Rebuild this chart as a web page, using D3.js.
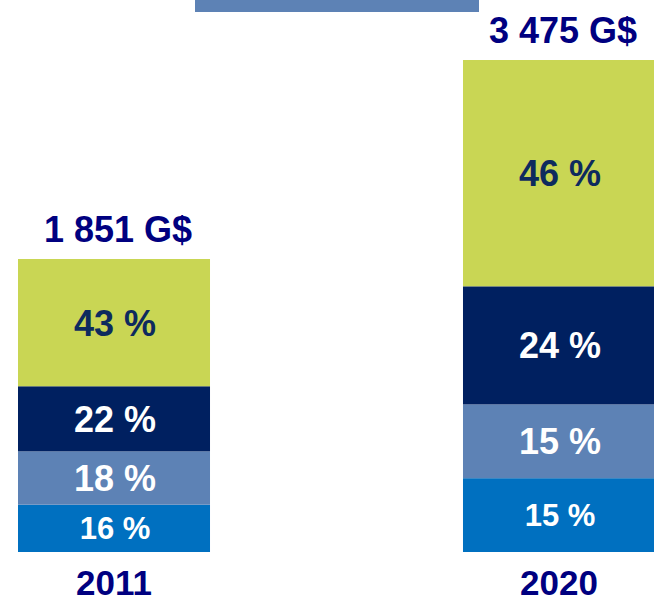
<!DOCTYPE html>
<html>
<head>
    <meta charset="utf-8">
    <style>
        body {
            margin: 0;
            background: #fff;
        }

        svg {
            display: block;
            font-family: "Liberation Sans", Arial, sans-serif;
            font-weight: bold;
        }

        .total {
            fill: #000080;
            font-size: 36px;
        }

        .year {
            fill: #000080;
            font-size: 35px;
        }
    </style>
</head>
<body>
    <svg width="654" height="603"></svg>

<script src="https://d3js.org/d3.v7.min.js"></script>
<script>
    // data
    let years = ["2011", "2020"]
    let totals = [1851, 3475]            // G$
    let totalLabels = ["1 851 G$", "3 475 G$"]
    let segments = ["s1", "s2", "s3", "s4"]   // bottom -> top
    let shares2011 = [16, 18, 22, 43]
    let shares2020 = [15, 15, 24, 46]

    let colors = ["#0070c0", "#5d82b5", "#002060", "#c9d654"]
    let textColors = ["#ffffff", "#ffffff", "#ffffff", "#0d2b5e"]

    let svg = d3.select("svg")

    let x = d3.scaleBand()
        .domain(years)
        .range([18, 655])
        .paddingInner(0.5685)

    // value axis (not shown) - baseline sits below zero in the original
    let y = d3.scaleLinear()
        .domain([-540, 3475])
        .range([552, 60])

    // small band at the very top of the slide
    svg.append("rect")
        .attr("x", 195)
        .attr("y", 0)
        .attr("width", 284)
        .attr("height", 12)
        .attr("fill", "#5d82b5")

    let bars = years.map((yr, i) => {
        let shares = i == 0 ? shares2011 : shares2020
        let sum = d3.sum(shares)
        let cum = 0
        return {
            year: yr,
            total: totals[i],
            label: totalLabels[i],
            segs: shares.map((s, j) => {
                let d = { key: segments[j], share: s, y0: cum / sum, y1: (cum + s) / sum, idx: j }
                cum += s
                return d
            })
        }
    })

    let g = svg.append("g").attr("class", "bars")

    bars.forEach(b => {
        // map share (0..1) onto the height of this bar
        let s = d3.scaleLinear()
            .domain([0, 1])
            .range([y(-540), y(b.total)])

        let bg = g.append("g").attr("class", "bar")

        bg.selectAll("rect")
            .data(b.segs)
            .join("rect")
            .attr("x", x(b.year))
            .attr("width", x.bandwidth())
            .attr("y", d => s(d.y1))
            .attr("height", d => s(d.y0) - s(d.y1))
            .attr("fill", d => colors[d.idx])

        bg.selectAll("text.pct")
            .data(b.segs)
            .join("text")
            .attr("class", "pct")
            .attr("x", x(b.year) + x.bandwidth() / 2 + 1)
            .attr("y", d => (s(d.y0) + s(d.y1)) / 2)
            .attr("dy", "0.36em")
            .attr("text-anchor", "middle")
            .attr("font-size", d => d.idx == 0 ? 31 : 36)
            .attr("fill", d => textColors[d.idx])
            .text(d => d.share + " %")

        bg.append("text")
            .attr("class", "total")
            .attr("x", x(b.year) + x.bandwidth() / 2 + 4)
            .attr("y", y(b.total) - 17)
            .attr("text-anchor", "middle")
            .text(b.label)

        bg.append("text")
            .attr("class", "year")
            .attr("x", x(b.year) + x.bandwidth() / 2)
            .attr("y", 595)
            .attr("text-anchor", "middle")
            .text(b.year)
    })
</script>
</body>
</html>
